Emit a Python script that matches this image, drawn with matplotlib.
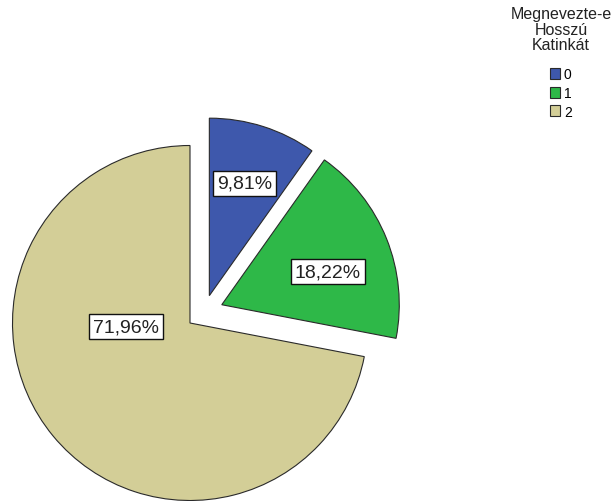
import matplotlib
matplotlib.use("Agg")
import matplotlib.pyplot as plt

categories = ["0", "1", "2"]
percentages = [9.81, 18.22, 71.96]
pct_labels = ["9,81%", "18,22%", "71,96%"]
legend_title = "Megnevezte-e\nHosszú\nKatinkát"

colors = ["#3E58AC", "#2EB848", "#D3CE97"]
# explode offsets of each wedge (style), in pie-radius units
offsets = [(0.109, 0.154), (0.179, 0.103), (0.0, 0.0)]
label_pos = [(0.307, 0.786), (0.777, 0.290), (-0.362, -0.020)]

plt.rcParams['font.family'] = ['Liberation Sans', 'DejaVu Sans']

W, H = 614, 502
fig = plt.figure(figsize=(W / 100, H / 100), dpi=100)
ax = fig.add_axes([0, 0, 1, 1])

wedges, _ = ax.pie(percentages, colors=colors, startangle=90, counterclock=False,
                   radius=1.0,
                   wedgeprops=dict(edgecolor="#2a2a2a", linewidth=0.8))
for w, off in zip(wedges, offsets):
    w.set_center(off)

for txt, pos in zip(pct_labels, label_pos):
    ax.text(pos[0], pos[1], txt, ha="center", va="center", fontsize=14,
            color="#222222",
            bbox=dict(boxstyle="square,pad=0.2", facecolor="white",
                      edgecolor="#111111", linewidth=1.0))

R = 177.5
cx, cy = 190, 324
ax.set_xlim(-cx / R, (W - cx) / R)
ax.set_ylim(-(H - cy) / R, cy / R)
ax.set_aspect("equal")
ax.axis("off")

fig.text(561 / W, 1 - 7 / H, legend_title, ha="center", va="top",
         fontsize=11.5, linespacing=1.05, color="#222222")

leg = fig.legend(wedges, categories, loc="upper left",
                 bbox_to_anchor=(550 / W, 1 - 68 / H),
                 frameon=False, fontsize=10, handlelength=0.75, handleheight=0.85,
                 handletextpad=0.25, labelspacing=0.35, borderpad=0,
                 borderaxespad=0)

fig.savefig("out.png", dpi=100)
